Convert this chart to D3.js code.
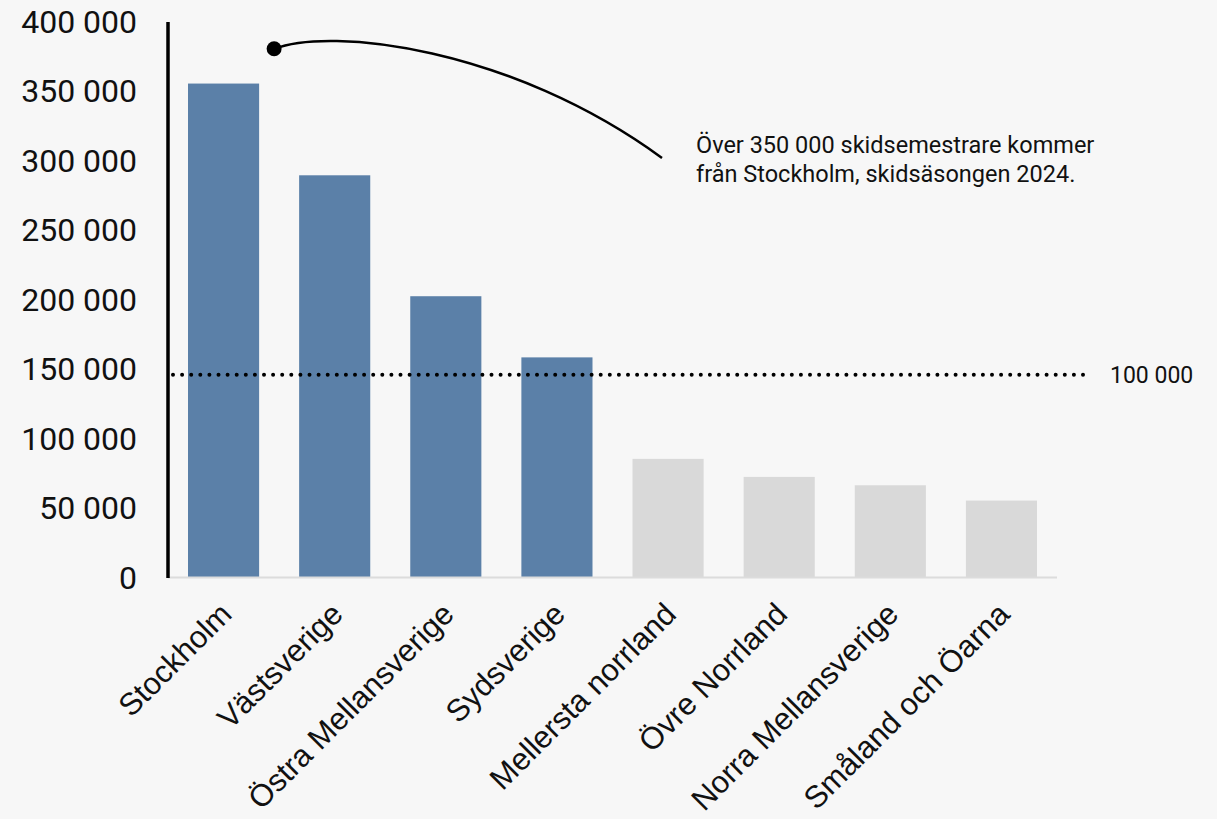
<!DOCTYPE html>
<html>
<head>
<meta charset="utf-8">
<script src="https://cdn.jsdelivr.net/npm/d3@7"></script>
<style>
  html, body { margin: 0; padding: 0; background: #f7f7f7; }
  svg { display: block; }
  .tick-label { font-family: Roboto, sans-serif; font-size: 32px; fill: #111; }
  .cat-label { font-family: "Liberation Sans", Arial, sans-serif; font-size: 31px; fill: #111; }
  .note { font-family: Roboto, sans-serif; font-size: 23.5px; fill: #111; }
  .ref-label { font-family: Roboto, sans-serif; font-size: 23px; fill: #111; }
</style>
</head>
<body>
<div id="chart"></div>
<script>
// Regions and number of ski tourists, season 2024
const regions = ['Stockholm', 'Västsverige', 'Östra Mellansverige', 'Sydsverige',
                 'Mellersta norrland', 'Övre Norrland', 'Norra Mellansverige', 'Småland och Öarna'];
const visitors = [355000, 289000, 202000, 158000, 85000, 72000, 66000, 55000];
const highlighted = [true, true, true, true, false, false, false, false];

const yTicks = [0, 50000, 100000, 150000, 200000, 250000, 300000, 350000, 400000];

// reference line and annotation
const refValue = 145500;
const refLabel = '100 000';
const noteLines = ['Över 350 000 skidsemestrare kommer', 'från Stockholm, skidsäsongen 2024.'];

const width = 1217, height = 819;
const margin = {left: 168, right: 160, top: 21, bottom: 242};

const svg = d3.select('#chart').append('svg')
    .attr('width', width)
    .attr('height', height);

svg.append('rect').attr('width', width).attr('height', height).attr('fill', '#f7f7f7');

const x = d3.scaleBand()
    .domain(regions)
    .range([margin.left, 1057])
    .paddingInner(0.36)
    .paddingOuter(0.18);

const y = d3.scaleLinear()
    .domain([0, 400000])
    .range([height - margin.bottom, margin.top]);

const fmt = d => d3.format(',')(d).replace(/,/g, ' ');

// y tick labels (no tick marks)
svg.append('g').selectAll('text')
    .data(yTicks)
    .enter()
    .append('text')
    .attr('class', 'tick-label')
    .attr('x', 137)
    .attr('y', d => y(d))
    .attr('dy', '0.36em')
    .attr('text-anchor', 'end')
    .text(fmt);

// bars
svg.append('g').selectAll('rect')
    .data(regions)
    .enter()
    .append('rect')
    .attr('x', d => x(d))
    .attr('y', (d, i) => y(visitors[i]))
    .attr('width', x.bandwidth())
    .attr('height', (d, i) => y(0) - y(visitors[i]))
    .attr('fill', (d, i) => highlighted[i] ? '#5b80a8' : '#d9d9d9');

// baseline
svg.append('line')
    .attr('x1', margin.left).attr('x2', 1057)
    .attr('y1', y(0) + 0.5).attr('y2', y(0) + 0.5)
    .attr('stroke', '#dcdcdc')
    .attr('stroke-width', 2);

// y axis line
svg.append('line')
    .attr('x1', margin.left).attr('x2', margin.left)
    .attr('y1', y(400000) + 1).attr('y2', y(0) + 1)
    .attr('stroke', '#000')
    .attr('stroke-width', 3.5);

// dotted reference line
svg.append('line')
    .attr('x1', margin.left + 5).attr('x2', 1088)
    .attr('y1', y(refValue)).attr('y2', y(refValue))
    .attr('stroke', '#000')
    .attr('stroke-width', 4)
    .attr('stroke-linecap', 'round')
    .attr('stroke-dasharray', '0 9.1');

svg.append('text')
    .attr('class', 'ref-label')
    .attr('x', 1110)
    .attr('y', y(refValue))
    .attr('dy', '0.36em')
    .text(refLabel);

// category labels, rotated
svg.append('g').selectAll('text')
    .data(regions)
    .enter()
    .append('text')
    .attr('class', 'cat-label')
    .attr('text-anchor', 'end')
    .attr('transform', d => `translate(${x(d) + x.bandwidth() / 2 + 10},${y(0) + 39}) rotate(-45)`)
    .text(d => d);

// annotation curve with dot
const dotX = x(regions[0]) + x.bandwidth() + 15;
const dotY = y(380000);
const endX = 662, endY = 158;
svg.append('path')
    .attr('d', `M${dotX},${dotY} C${dotX + 56},${dotY - 22} ${dotX + 236},${dotY - 2} ${endX},${endY}`)
    .attr('fill', 'none')
    .attr('stroke', '#000')
    .attr('stroke-width', 2.5);

svg.append('circle')
    .attr('cx', dotX)
    .attr('cy', dotY)
    .attr('r', 7.5)
    .attr('fill', '#000');

svg.append('g').selectAll('text')
    .data(noteLines)
    .enter()
    .append('text')
    .attr('class', 'note')
    .attr('x', 696)
    .attr('y', (d, i) => 153 + i * 29)
    .text(d => d);
</script>
</body>
</html>
